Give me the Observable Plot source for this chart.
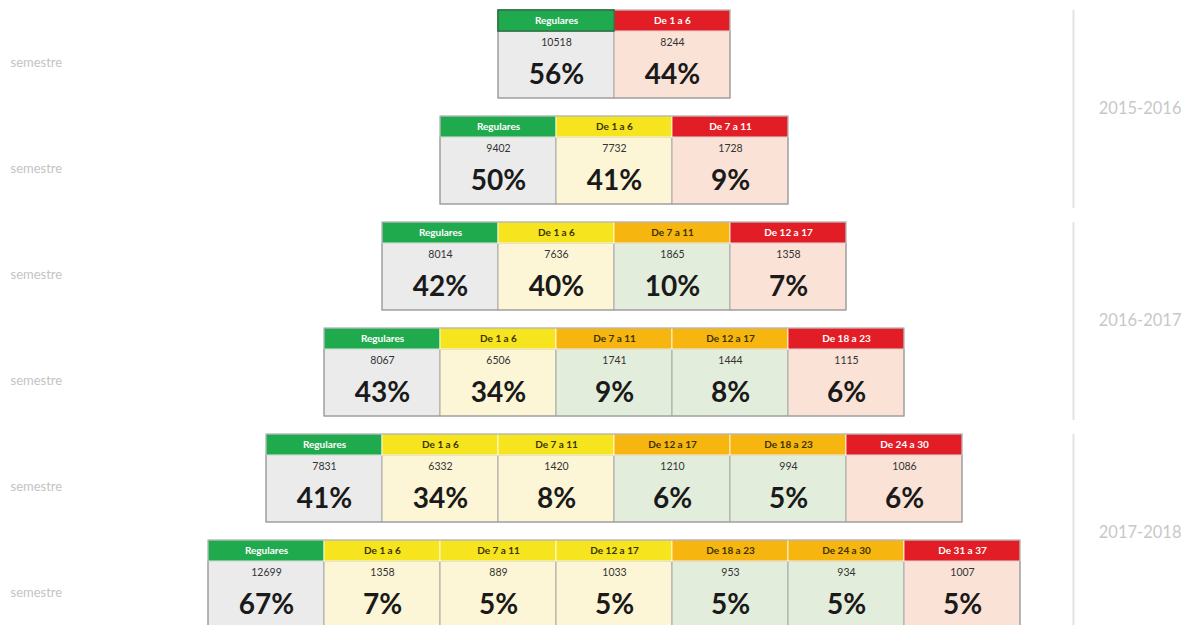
<!DOCTYPE html>
<html><head><meta charset="utf-8">
<script src="https://cdn.jsdelivr.net/npm/d3@7"></script>
<script src="https://cdn.jsdelivr.net/npm/@observablehq/plot@0.6"></script>
<style>
html,body{margin:0;padding:0;background:#fff;}
#chart svg{display:block;}
</style>
</head><body><div id="chart"></div>
<script>
// ---- data ----
const headers = [
  ["Regulares","De 1 a 6"],
  ["Regulares","De 1 a 6","De 7 a 11"],
  ["Regulares","De 1 a 6","De 7 a 11","De 12 a 17"],
  ["Regulares","De 1 a 6","De 7 a 11","De 12 a 17","De 18 a 23"],
  ["Regulares","De 1 a 6","De 7 a 11","De 12 a 17","De 18 a 23","De 24 a 30"],
  ["Regulares","De 1 a 6","De 7 a 11","De 12 a 17","De 18 a 23","De 24 a 30","De 31 a 37"]
];
const counts = [
  [10518, 8244],
  [9402, 7732, 1728],
  [8014, 7636, 1865, 1358],
  [8067, 6506, 1741, 1444, 1115],
  [7831, 6332, 1420, 1210, 994, 1086],
  [12699, 1358, 889, 1033, 953, 934, 1007]
];
const percents = [
  [56, 44],
  [50, 41, 9],
  [42, 40, 10, 7],
  [43, 34, 9, 8, 6],
  [41, 34, 8, 6, 5, 6],
  [67, 7, 5, 5, 5, 5, 5]
];
const levels = [
  ["g","r"],
  ["g","y","r"],
  ["g","y","o","r"],
  ["g","y","o","o","r"],
  ["g","y","y","o","o","r"],
  ["g","y","y","y","o","o","r"]
];
const periods = ["2015-2016","2016-2017","2017-2018"];
const rowLabel = "semestre";

// ---- layout ----
const W = 1187, H = 625;
const cellW = 116, center = 614, pitch = 106, top0 = 10;
const u = px => px / pitch;           // pixel offset -> row units
const hdrH = u(21), rowH = u(88);

const cells = [];
headers.forEach((row, r) => {
  const n = row.length;
  row.forEach((label, c) => {
    cells.push({r, c, n, label, count: counts[r][c], pct: percents[r][c], level: levels[r][c],
      x1: c - n/2, x2: c + 1 - n/2});
  });
});
const rowsData = headers.map((row, r) => ({r, n: row.length}));
const periodData = periods.map((p, i) => ({p, r0: 2*i, r1: 2*i + 1}));

const xDomain = [-center / cellW, (W - center) / cellW];
const yDomain = [-u(top0), u(H - top0)];
const dividerX = (1073 - center) / cellW;

const plot = Plot.plot({
  width: W, height: H,
  margin: 0,
  x: {domain: xDomain, range: [0, W], axis: null},
  y: {domain: yDomain, range: [0, H], axis: null},
  color: {
    domain: ["hg","hy","ho","hr","bg","by","bo","br"],
    range: ["#1faa4e","#f6e51e","#f7b510","#e31d25","#ebebec","#fdf6d6","#e3eddb","#fbe2d6"]
  },
  style: {fontFamily: "Lato, 'Open Sans', sans-serif", background: "#fff"},
  marks: [
    // body cells
    Plot.rect(cells, {x1: "x1", x2: "x2", y1: d => d.r + hdrH, y2: d => d.r + rowH,
      fill: d => "b" + d.level, stroke: "#a8a8a8", strokeWidth: 1}),
    // header cells
    Plot.rect(cells, {x1: "x1", x2: "x2", y1: d => d.r, y2: d => d.r + hdrH,
      fill: d => "h" + d.level, stroke: "#ffffff", strokeWidth: 0.8}),
    // row outline
    Plot.rect(rowsData, {x1: d => -d.n/2, x2: d => d.n/2, y1: "r", y2: d => d.r + rowH,
      fill: "none", stroke: "#9a9a9a", strokeWidth: 1}),
    // selected-cell highlight on first header
    Plot.rect(cells.filter(d => d.r === 0 && d.c === 0), {x1: "x1", x2: "x2", y1: d => d.r, y2: d => d.r + hdrH,
      fill: "none", stroke: "#1d6b3a", strokeWidth: 1.6}),
    // header labels
    Plot.text(cells.filter(d => d.level === "g" || d.level === "r"), {x: d => (d.x1 + d.x2)/2, y: d => d.r + u(10.5),
      text: "label", fill: "#ffffff", fontSize: 10, fontWeight: "bold"}),
    Plot.text(cells.filter(d => d.level === "y" || d.level === "o"), {x: d => (d.x1 + d.x2)/2, y: d => d.r + u(10.5),
      text: "label", fill: "#3b3300", fontSize: 10, fontWeight: "bold"}),
    // counts
    Plot.text(cells, {x: d => (d.x1 + d.x2)/2, y: d => d.r + u(32), text: d => String(d.count),
      fill: "#333333", fontSize: 10.5}),
    // percents
    Plot.text(cells, {x: d => (d.x1 + d.x2)/2, y: d => d.r + u(65), text: d => d.pct + "%",
      fill: "#1a1a1a", fontSize: 28, fontWeight: "bold"}),
    // left labels
    Plot.text(rowsData, {frameAnchor: "left", dx: 10, y: d => d.r + u(52), text: () => rowLabel,
      textAnchor: "start", fill: "#c4c4c4", fontSize: 13}),
    // right dividers
    Plot.ruleX(periodData, {x: () => dividerX, y1: d => d.r0, y2: d => d.r1 + u(92), stroke: "#e2e2e2", strokeWidth: 2}),
    // period labels
    Plot.text(periodData, {frameAnchor: "right", dx: -6, y: d => d.r0 + u(98), text: "p",
      textAnchor: "end", fill: "#c8c8c8", fontSize: 16.5})
  ]
});
document.getElementById("chart").appendChild(plot);
</script>
</body></html>
